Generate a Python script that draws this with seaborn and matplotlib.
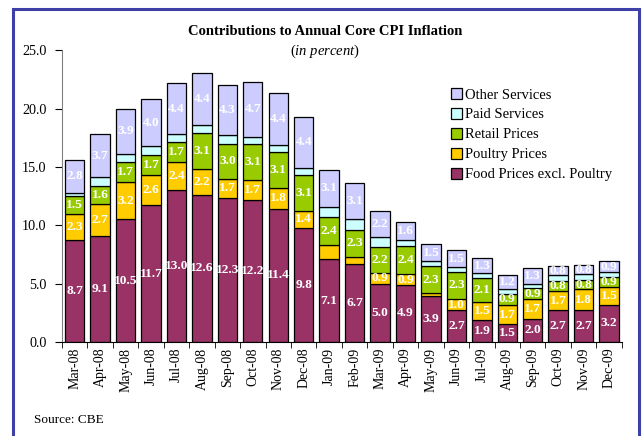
import matplotlib
matplotlib.use("Agg")
import matplotlib.pyplot as plt
import matplotlib.patches as mpatches
from matplotlib.ticker import FixedLocator, FormatStrFormatter
import seaborn as sns
import numpy as np
import pandas as pd

months = ["Mar-08", "Apr-08", "May-08", "Jun-08", "Jul-08", "Aug-08", "Sep-08", "Oct-08",
          "Nov-08", "Dec-08", "Jan-09", "Feb-09", "Mar-09", "Apr-09", "May-09", "Jun-09",
          "Jul-09", "Aug-09", "Sep-09", "Oct-09", "Nov-09", "Dec-09"]
food = [8.7, 9.1, 10.5, 11.7, 13.0, 12.6, 12.3, 12.2, 11.4, 9.8, 7.1, 6.7, 5.0, 4.9, 3.9, 2.7,
        1.9, 1.5, 2.0, 2.7, 2.7, 3.2]
poultry = [2.3, 2.7, 3.2, 2.6, 2.4, 2.2, 1.7, 1.7, 1.8, 1.4, 1.2, 0.6, 0.9, 0.9, 0.3, 1.0,
           1.5, 1.7, 1.7, 1.7, 1.8, 1.5]
poultry_labeled = [1, 1, 1, 1, 1, 1, 1, 1, 1, 1, 0, 0, 1, 1, 0, 1, 1, 1, 1, 1, 1, 1]
retail = [1.5, 1.6, 1.7, 1.7, 1.7, 3.1, 3.0, 3.1, 3.1, 3.1, 2.4, 2.3, 2.2, 2.4, 2.3, 2.3,
          2.1, 0.9, 0.9, 0.8, 0.8, 0.9]
paid = [0.3, 0.7, 0.7, 0.8, 0.7, 0.7, 0.7, 0.6, 0.6, 0.6, 0.9, 0.9, 0.9, 0.5, 0.4, 0.4,
        0.4, 0.4, 0.4, 0.5, 0.5, 0.4]
other = [2.8, 3.7, 3.9, 4.0, 4.4, 4.4, 4.3, 4.7, 4.4, 4.4, 3.1, 3.1, 2.2, 1.6, 1.5, 1.5,
         1.3, 1.2, 1.3, 0.8, 0.8, 0.9]

series_names = ["Food Prices excl. Poultry", "Poultry Prices", "Retail Prices",
                "Paid Services", "Other Services"]
series_vals = [food, poultry, retail, paid, other]
colors = ["#993366", "#FFCC00", "#99CC00", "#CCFFFF", "#CCCCFF"]

plt.rcParams["font.family"] = ["Liberation Serif", "DejaVu Serif"]
plt.rcParams["mathtext.fontset"] = "custom"
plt.rcParams["mathtext.rm"] = "Liberation Serif"
plt.rcParams["mathtext.it"] = "Liberation Serif:italic"

fig = plt.figure(figsize=(6.43, 4.36), dpi=100)
ax = fig.add_axes([0.0964, 0.2156, 0.8706, 0.6694])

df = pd.DataFrame({"month": months})
bottom = np.zeros(len(months))
containers = []
for name, vals, col in zip(series_names, series_vals, colors):
    df[name] = vals
    sns.barplot(data=df, x="month", y=name, bottom=bottom.copy(), color=col,
                edgecolor="black", linewidth=0.9, width=0.76, saturation=1,
                ax=ax, errorbar=None)
    containers.append(ax.containers[-1])
    bottom = bottom + np.array(vals)

def fmt(v):
    return f"{v:.1f}"

label_sets = [
    [fmt(v) for v in food],
    [fmt(v) if s else "" for v, s in zip(poultry, poultry_labeled)],
    [fmt(v) for v in retail],
    ["" for v in paid],
    [fmt(v) for v in other],
]
for cont, labs in zip(containers, label_sets):
    ax.bar_label(cont, labels=labs, label_type="center", color="white",
                 fontsize=9.6, fontweight="bold")

ax.set_xlim(-0.5, len(months) - 0.5)
ax.set_ylim(0, 25)
ax.yaxis.set_major_locator(FixedLocator([0, 5, 10, 15, 20, 25]))
ax.yaxis.set_major_formatter(FormatStrFormatter("%.1f"))
ax.set_xlabel("")
ax.set_ylabel("")
ax.set_xticks(range(len(months)))
ax.set_xticklabels(months, rotation=90, fontsize=10)
ax.tick_params(axis="x", which="major", length=0, pad=4)
ax.xaxis.set_minor_locator(FixedLocator(np.arange(-0.5, len(months), 1.0)))
ax.tick_params(axis="x", which="minor", length=4, direction="out", color="black")
ax.tick_params(axis="y", length=5, direction="out", labelsize=10.2, color="black", pad=6)
for s in ["top", "right"]:
    ax.spines[s].set_visible(False)
ax.spines["left"].set_color("#808080")
ax.spines["bottom"].set_color("black")
ax.set_facecolor("white")

handles = [mpatches.Patch(facecolor=c, edgecolor="black", linewidth=0.9, label=n)
           for n, c in zip(series_names, colors)][::-1]
ax.legend(handles=handles, loc="upper left", bbox_to_anchor=(0.684, 0.89), frameon=False,
          fontsize=10.5, handlelength=0.75, handleheight=0.75, handletextpad=0.2,
          labelspacing=0.45, borderaxespad=0)

fig.text(0.505, 0.927, "Contributions to Annual Core CPI Inflation", ha="center", va="center",
         fontsize=10.5, fontweight="bold")
fig.text(0.505, 0.882, r"($\mathit{in\ percent}$)", ha="center", va="center", fontsize=10.5)

fig.text(0.053, 0.036, "Source: CBE", ha="left", va="center", fontsize=9.5)

border = mpatches.Rectangle((12.5 / 643, -0.05), (639 - 12.5) / 643, 1.05 - 9.5 / 436,
                            transform=fig.transFigure, fill=False, edgecolor="#3F3FA8",
                            linewidth=2.2)
fig.patches.append(border)

fig.savefig("out.png", dpi=100)
